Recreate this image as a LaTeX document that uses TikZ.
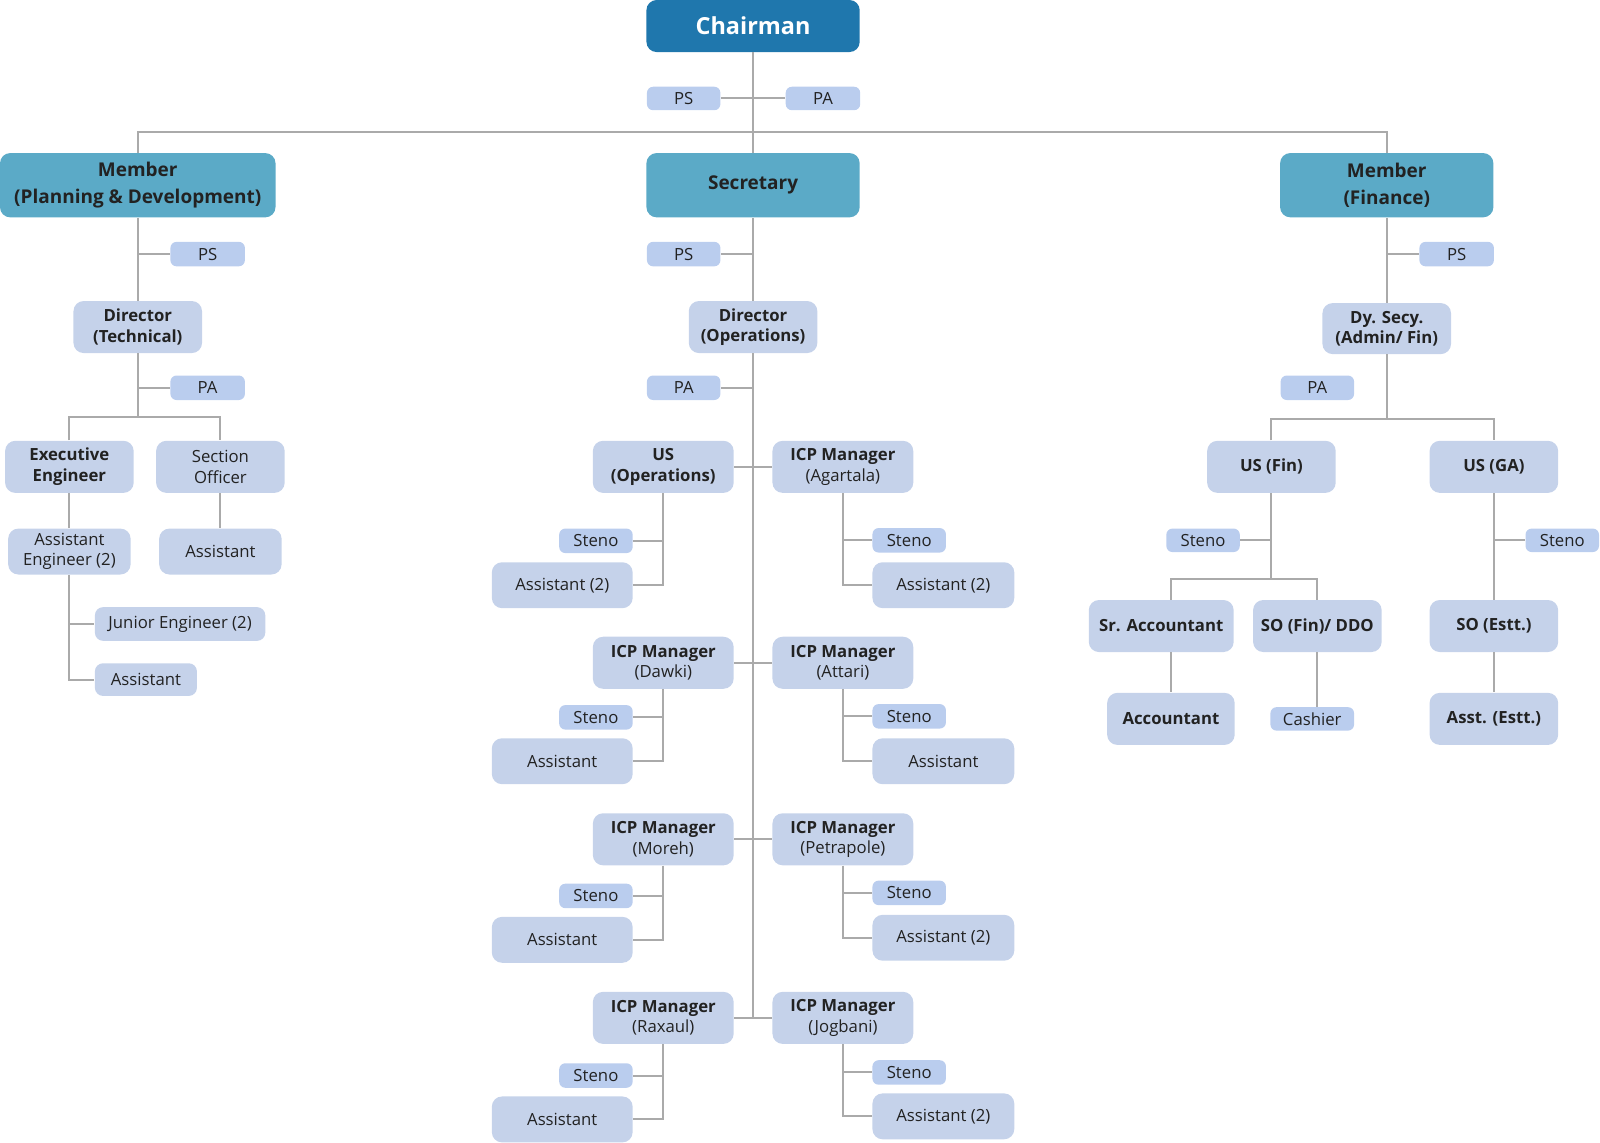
\documentclass[tikz,border=0pt]{standalone}
\usepackage{fontspec}
\setmainfont{Open Sans}
\usepackage{tikz}

\definecolor{chairblue}{HTML}{1F77AD}
\definecolor{memberblue}{HTML}{5BAAC7}
\definecolor{postblue}{HTML}{C5D2EA}
\definecolor{aideblue}{HTML}{BACDEE}
\definecolor{linegray}{HTML}{AAAAAA}
\definecolor{textdark}{HTML}{222222}

\tikzset{
	link/.style={draw=linegray, line width=1pt},
	sz/.style 2 args={minimum width=#1pt, minimum height=#2pt},
	chair/.style={fill=chairblue, text=white, rounded corners=5pt, inner sep=0pt, font=\bfseries\fontsize{11.5}{14}\selectfont},
	member/.style={fill=memberblue, text=textdark, rounded corners=5pt, inner sep=0pt, align=center, font=\bfseries\fontsize{9.3}{13}\selectfont},
	post/.style={fill=postblue, text=textdark, rounded corners=5pt, inner sep=0pt, align=center, font=\fontsize{8.2}{10}\selectfont},
	headpost/.style={post, font=\bfseries\fontsize{8.2}{10}\selectfont},
	aide/.style={fill=aideblue, text=textdark, rounded corners=3pt, inner sep=0pt, font=\fontsize{8.2}{10}\selectfont}
}

\begin{document}
\begin{tikzpicture}[x=0.5pt, y=-0.5pt]
			\useasboundingbox (0,0) rectangle (1568,1120);
			
			% top
			\node[chair, sz={104.5}{25.5}] (chair) at (738,25.5) {Chairman};
			\node[aide, sz={36}{11.5}] (chPS) at (670,96.5) {PS};
			\node[aide, sz={36.5}{11.5}] (chPA) at (806.5,96.5) {PA};
			\node[member, sz={135}{31.5}] (memPD) at (135,181.5) {Member\\(Planning \& Development)};
			\node[member, sz={104.5}{31.5}] (secy) at (738,181.5) {Secretary};
			\node[member, sz={104.5}{31.5}] (memFin) at (1359,181.5) {Member\\(Finance)};
			\coordinate (topBus) at (738,129);
			
			\path[link] (chair.south) edge (secy.north);
			\path[link] (chPS.east) edge (chPA.west);
			\draw[link] (memPD.north) |- (topBus) -| (memFin.north);
			
			% planning and development
			\node[aide, sz={36.5}{12}] (pdPS) at (203.5,249) {PS};
			\node[headpost, sz={63}{25.5}] (dirTech) at (135,320.5) {Director\\(Technical)};
			\node[aide, sz={36.5}{12}] (techPA) at (203.5,380) {PA};
			\node[headpost, sz={63}{25.5}] (exeEng) at (68,457.5) {Executive\\Engineer};
			\node[post, sz={63}{25.5}] (secOff) at (216,457.5) {Section\\Officer};
			\node[post, sz={60}{22.5}] (asstEng) at (68,540.5) {Assistant\\Engineer (2)};
			\node[post, sz={60}{22.5}] (asstSO) at (216,540.5) {Assistant};
			\node[post, rounded corners=4pt, sz={83.5}{16.5}] (jrEng) at (176.5,611.5) {Junior Engineer (2)};
			\node[post, rounded corners=4pt, sz={50}{16}] (asstEE) at (143,666) {Assistant};
			\coordinate (techBus) at (135,409);
			
			\path[link] (memPD.south) edge (dirTech.north);
			\path[link] (memPD.south |- pdPS.west) edge (pdPS.west);
			\path[link] (dirTech.south) edge (techBus);
			\path[link] (dirTech.south |- techPA.west) edge (techPA.west);
			\draw[link] (exeEng.north) |- (techBus) -| (secOff.north);
			\path[link] (exeEng.south) edge (asstEng.north);
			\path[link] (secOff.south) edge (asstSO.north);
			\draw[link] (asstEng.south) |- (asstEE.west);
			\path[link] (asstEng.south |- jrEng.west) edge (jrEng.west);
			
			% secretary
			\node[aide, sz={36}{12}] (secPS) at (670,249) {PS};
			\node[headpost, sz={63}{25.5}] (dirOps) at (738,320.5) {Director\\(Operations)};
			\node[aide, sz={36}{12}] (opsPA) at (670,380) {PA};
			
			\node[headpost, sz={69}{25.5}] (usOps) at (650,457.5) {US\\(Operations)};
			\node[post, sz={69}{25.5}] (icpAga) at (826,457.5) {{\bfseries ICP Manager}\\(Agartala)};
			\node[aide, sz={36}{12}] (stUsOps) at (584,530) {Steno};
			\node[post, sz={69}{22.5}] (asUsOps) at (551,573.5) {Assistant (2)};
			\node[aide, sz={36}{12}] (stAga) at (891,529.5) {Steno};
			\node[post, sz={69.5}{22.5}] (asAga) at (924.5,573.5) {Assistant (2)};
			
			\node[post, sz={69}{25.5}] (icpDaw) at (650,649.5) {{\bfseries ICP Manager}\\(Dawki)};
			\node[post, sz={69}{25.5}] (icpAtt) at (826,649.5) {{\bfseries ICP Manager}\\(Attari)};
			\node[aide, sz={36}{12}] (stDaw) at (584,703) {Steno};
			\node[post, sz={69}{22.5}] (asDaw) at (551,746) {Assistant};
			\node[aide, sz={36}{12}] (stAtt) at (891,702) {Steno};
			\node[post, sz={69.5}{22.5}] (asAtt) at (924.5,746) {Assistant};
			
			\node[post, sz={69}{25.5}] (icpMor) at (650,822.5) {{\bfseries ICP Manager}\\(Moreh)};
			\node[post, sz={69}{25.5}] (icpPet) at (826,822.5) {{\bfseries ICP Manager}\\(Petrapole)};
			\node[aide, sz={36}{12}] (stMor) at (584,878) {Steno};
			\node[post, sz={69}{22.5}] (asMor) at (551,921) {Assistant};
			\node[aide, sz={36}{12}] (stPet) at (891,875) {Steno};
			\node[post, sz={69.5}{22.5}] (asPet) at (924.5,919) {Assistant (2)};
			
			\node[post, sz={69}{25.5}] (icpRax) at (650,997.5) {{\bfseries ICP Manager}\\(Raxaul)};
			\node[post, sz={69}{25.5}] (icpJog) at (826,997.5) {{\bfseries ICP Manager}\\(Jogbani)};
			\node[aide, sz={36}{12}] (stRax) at (584,1054) {Steno};
			\node[post, sz={69}{22.5}] (asRax) at (551,1097) {Assistant};
			\node[aide, sz={36}{12}] (stJog) at (891,1051) {Steno};
			\node[post, sz={69.5}{22.5}] (asJog) at (924.5,1094) {Assistant (2)};
			
			\path[link] (secy.south) edge (dirOps.north);
			\path[link] (secy.south |- secPS.east) edge (secPS.east);
			\path[link] (dirOps.south) edge (dirOps.south |- icpRax.east);
			\path[link] (dirOps.south |- opsPA.east) edge (opsPA.east);
			
			\path[link] (usOps.east) edge (icpAga.west);
			\path[link] (icpDaw.east) edge (icpAtt.west);
			\path[link] (icpMor.east) edge (icpPet.west);
			\path[link] (icpRax.east) edge (icpJog.west);
			
			\draw[link] (usOps.south) |- (asUsOps.east);
			\path[link] (usOps.south |- stUsOps.east) edge (stUsOps.east);
			\draw[link] (icpAga.south) |- (asAga.west);
			\path[link] (icpAga.south |- stAga.west) edge (stAga.west);
			\draw[link] (icpDaw.south) |- (asDaw.east);
			\path[link] (icpDaw.south |- stDaw.east) edge (stDaw.east);
			\draw[link] (icpAtt.south) |- (asAtt.west);
			\path[link] (icpAtt.south |- stAtt.west) edge (stAtt.west);
			\draw[link] (icpMor.south) |- (asMor.east);
			\path[link] (icpMor.south |- stMor.east) edge (stMor.east);
			\draw[link] (icpPet.south) |- (asPet.west);
			\path[link] (icpPet.south |- stPet.west) edge (stPet.west);
			\draw[link] (icpRax.south) |- (asRax.east);
			\path[link] (icpRax.south |- stRax.east) edge (stRax.east);
			\draw[link] (icpJog.south) |- (asJog.west);
			\path[link] (icpJog.south |- stJog.west) edge (stJog.west);
			
			% finance
			\node[aide, sz={36.5}{12}] (finPS) at (1427.5,249) {PS};
			\node[headpost, sz={63}{25}] (dySec) at (1359,322) {Dy. Secy.\\(Admin/ Fin)};
			\node[aide, sz={36}{12}] (finPA) at (1291,380) {PA};
			\node[headpost, sz={63}{25.5}] (usFin) at (1246,457.5) {US (Fin)};
			\node[headpost, sz={63}{25.5}] (usGA) at (1464,457.5) {US (GA)};
			\node[aide, sz={36}{11.5}] (finSteno) at (1179,529.5) {Steno};
			\node[aide, sz={36}{11.5}] (gaSteno) at (1531,529.5) {Steno};
			\node[headpost, sz={71}{25.5}] (srAcc) at (1138,613.5) {Sr. Accountant};
			\node[headpost, sz={63}{25.5}] (soFin) at (1291,613.5) {SO (Fin)/ DDO};
			\node[headpost, sz={63}{25.5}] (soEstt) at (1464,613.5) {SO (Estt.)};
			\node[headpost, sz={62.5}{25.5}] (acc) at (1147.5,704.5) {Accountant};
			\node[aide, sz={41}{11.5}] (cashier) at (1286,704.5) {Cashier};
			\node[headpost, sz={63}{25.5}] (asstEstt) at (1464,704.5) {Asst. (Estt.)};
			\coordinate (finBus) at (1359,411);
			\coordinate (accBus) at (1246,567);
			
			\path[link] (memFin.south) edge (dySec.north);
			\path[link] (memFin.south |- finPS.west) edge (finPS.west);
			\path[link] (dySec.south) edge (finBus);
			\draw[link] (usFin.north) |- (finBus) -| (usGA.north);
			\path[link] (usFin.south) edge (accBus);
			\path[link] (usFin.south |- finSteno.east) edge (finSteno.east);
			\draw[link] (acc.north |- srAcc.north) |- (accBus) -| (soFin.north);
			\path[link] (acc.north |- srAcc.south) edge (acc.north);
			\path[link] (soFin.south) edge (soFin.south |- cashier.north);
			\path[link] (usGA.south) edge (soEstt.north);
			\path[link] (usGA.south |- gaSteno.west) edge (gaSteno.west);
			\path[link] (soEstt.south) edge (asstEstt.north);
\end{tikzpicture}
\end{document}
